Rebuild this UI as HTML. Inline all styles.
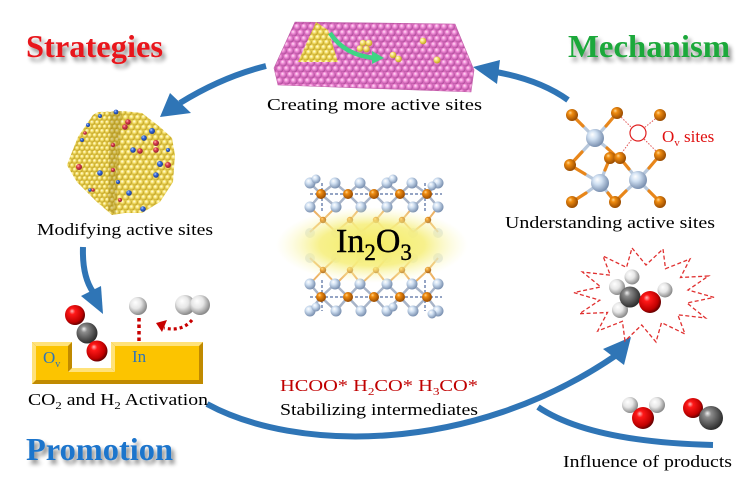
<!DOCTYPE html>
<html><head><meta charset="utf-8">
<style>
html,body{margin:0;padding:0;background:#fff;}
svg{display:block;}
text{font-family:"Liberation Serif","DejaVu Serif",serif;}
</style></head><body>
<svg width="750" height="495" viewBox="0 0 750 495" xmlns="http://www.w3.org/2000/svg">
<defs>
<radialGradient id="gRed" cx="0.4" cy="0.4" r="0.6" fx="0.35" fy="0.3"><stop offset="0" stop-color="#ffb8b8"/><stop offset="0.25" stop-color="#ff1818"/><stop offset="0.8" stop-color="#c00000"/><stop offset="1" stop-color="#6a0000"/></radialGradient>
<radialGradient id="gGray" cx="0.4" cy="0.4" r="0.6" fx="0.35" fy="0.3"><stop offset="0" stop-color="#f0f0f0"/><stop offset="0.25" stop-color="#8c8c8c"/><stop offset="1" stop-color="#2e2e2e"/></radialGradient>
<radialGradient id="gWhite" cx="0.4" cy="0.4" r="0.6" fx="0.35" fy="0.3"><stop offset="0" stop-color="#ffffff"/><stop offset="0.5" stop-color="#e6e6e6"/><stop offset="1" stop-color="#8a8a8a"/></radialGradient>
<radialGradient id="gOrange" cx="0.4" cy="0.4" r="0.6" fx="0.35" fy="0.3"><stop offset="0" stop-color="#ffd890"/><stop offset="0.3" stop-color="#f08c10"/><stop offset="1" stop-color="#9a4c00"/></radialGradient>
<radialGradient id="gLB" cx="0.4" cy="0.4" r="0.6" fx="0.35" fy="0.3"><stop offset="0" stop-color="#ffffff"/><stop offset="0.4" stop-color="#d0e0f2"/><stop offset="1" stop-color="#7a90b0"/></radialGradient>
<radialGradient id="gYel" cx="0.4" cy="0.4" r="0.6" fx="0.35" fy="0.3"><stop offset="0" stop-color="#fffef0"/><stop offset="0.45" stop-color="#f8e470"/><stop offset="1" stop-color="#c0a020"/></radialGradient>
<radialGradient id="gPink" cx="0.4" cy="0.4" r="0.6" fx="0.35" fy="0.3"><stop offset="0" stop-color="#ffe4f6"/><stop offset="0.45" stop-color="#f08ad6"/><stop offset="1" stop-color="#b04c9c"/></radialGradient>
<radialGradient id="gBD" cx="0.4" cy="0.4" r="0.6" fx="0.35" fy="0.3"><stop offset="0" stop-color="#c8dcff"/><stop offset="0.4" stop-color="#3a6ee0"/><stop offset="1" stop-color="#1a3a90"/></radialGradient>
<radialGradient id="gRD" cx="0.4" cy="0.4" r="0.6" fx="0.35" fy="0.3"><stop offset="0" stop-color="#ffc0c0"/><stop offset="0.4" stop-color="#e04050"/><stop offset="1" stop-color="#902030"/></radialGradient>
<radialGradient id="gGlow" cx="0.5" cy="0.5" r="0.5"><stop offset="0" stop-color="#f4ec60" stop-opacity="1"/><stop offset="0.55" stop-color="#f6ef80" stop-opacity="0.9"/><stop offset="1" stop-color="#fbf8c0" stop-opacity="0"/></radialGradient>
<pattern id="pPink" width="7" height="12" patternUnits="userSpaceOnUse"><rect width="7" height="12" fill="#d86cbc"/><circle cx="3.5" cy="3" r="3.4" fill="url(#gPink)"/><circle cx="0" cy="9" r="3.4" fill="url(#gPink)"/><circle cx="7" cy="9" r="3.4" fill="url(#gPink)"/></pattern>
<pattern id="pYel" width="5" height="8.6" patternUnits="userSpaceOnUse"><rect width="5" height="8.6" fill="#d8bc40"/><circle cx="2.5" cy="2.15" r="2.5" fill="url(#gYel)"/><circle cx="0" cy="6.45" r="2.5" fill="url(#gYel)"/><circle cx="5" cy="6.45" r="2.5" fill="url(#gYel)"/></pattern>
<pattern id="pYel2" width="6" height="10" patternUnits="userSpaceOnUse"><rect width="6" height="10" fill="#e0c850"/><circle cx="3" cy="2.5" r="2.9" fill="url(#gYel)"/><circle cx="0" cy="7.5" r="2.9" fill="url(#gYel)"/><circle cx="6" cy="7.5" r="2.9" fill="url(#gYel)"/></pattern>
<filter id="sh" x="-10%" y="-30%" width="130%" height="180%"><feGaussianBlur in="SourceAlpha" stdDeviation="2"/><feOffset dx="3" dy="4"/><feComponentTransfer><feFuncA type="linear" slope="0.45"/></feComponentTransfer><feMerge><feMergeNode/><feMergeNode in="SourceGraphic"/></feMerge></filter>
</defs>

<!-- Titles -->
<g filter="url(#sh)" font-weight="bold" font-size="32">
<text x="26" y="57" fill="#e8141b" textLength="137" lengthAdjust="spacingAndGlyphs">Strategies</text>
<text x="568" y="57" fill="#1ca83a" textLength="162" lengthAdjust="spacingAndGlyphs">Mechanism</text>
<text x="26" y="460" fill="#1e74cc" textLength="147" lengthAdjust="spacingAndGlyphs">Promotion</text>
</g>

<!-- Blue arrows -->
<g fill="none" stroke="#2f75b6" stroke-width="6">
<path d="M266,66 Q222,77 180,103"/>
<path d="M568,100 Q540,80 496,72"/>
<path d="M83,247 Q82,276 93,292"/>
<path d="M207,404 C295,452 470,455 615,356"/>
<path d="M538,407 Q590,442 713,445"/>
</g>
<g fill="#2f75b6">
<polygon points="160,117 170,93 191,113"/>
<polygon points="473,67 500,60 497,84"/>
<polygon points="103,314 81,296 101,286"/>
<polygon points="631,337 603,349 624,365"/>
</g>

<!-- Pink slab -->
<polygon points="295,22 455,24 474,70 471,92 278,85 274,68" fill="url(#pPink)" stroke="#c060a8" stroke-width="0.6"/>
<polygon points="316,22 328,30 338,62 298,62" fill="url(#pYel2)"/>
<path d="M330,33 Q345,56 376,58" fill="none" stroke="#3ed484" stroke-width="4.5"/>
<polygon points="384,58 372,51 372,64" fill="#3ed484"/>
<g>
<circle cx="363" cy="43" r="3.3" fill="url(#gYel)"/><circle cx="369" cy="43" r="3.3" fill="url(#gYel)"/>
<circle cx="360" cy="48.5" r="3.3" fill="url(#gYel)"/><circle cx="366.5" cy="49" r="3.3" fill="url(#gYel)"/>
<circle cx="393" cy="55" r="3.3" fill="url(#gYel)"/><circle cx="398.5" cy="59" r="3.3" fill="url(#gYel)"/>
<circle cx="423" cy="41" r="3.3" fill="url(#gYel)"/><circle cx="437" cy="60" r="3.5" fill="url(#gYel)"/>
</g>
<text x="267" y="110" font-size="17" fill="#000" textLength="215" lengthAdjust="spacingAndGlyphs">Creating more active sites</text>

<!-- Nanoparticle -->
<polygon points="93,115 98,112 123,111 142,113 160,127 172,138 175,155 173,182 160,202 142,213 125,213 112,215 97,202 77,182 67,165 78,137" fill="url(#pYel2)"/>
<polygon points="93,115 98,112 120,112 113,214 97,202 77,182 67,165 78,137" fill="url(#pYel)"/>
<polygon points="110,112 122,111 116,214 108,211" fill="#8a7010" opacity="0.3"/>
<g>
<circle cx="116" cy="112" r="2.4" fill="url(#gBD)"/><circle cx="100" cy="116" r="2" fill="url(#gBD)"/><circle cx="88" cy="125" r="2" fill="url(#gBD)"/>
<circle cx="82" cy="140" r="2" fill="url(#gBD)"/><circle cx="152" cy="131" r="3" fill="url(#gBD)"/><circle cx="144" cy="138" r="2.8" fill="url(#gBD)"/>
<circle cx="133" cy="150" r="2.8" fill="url(#gBD)"/><circle cx="160" cy="164" r="3" fill="url(#gBD)"/><circle cx="156" cy="175" r="2.8" fill="url(#gBD)"/>
<circle cx="100" cy="173" r="2.8" fill="url(#gBD)"/><circle cx="129" cy="193" r="2.8" fill="url(#gBD)"/><circle cx="143" cy="209" r="2.8" fill="url(#gBD)"/>
<circle cx="118" cy="182" r="2" fill="url(#gBD)"/><circle cx="90" cy="190" r="1.8" fill="url(#gBD)"/><circle cx="168" cy="150" r="2" fill="url(#gBD)"/>
<circle cx="128" cy="122" r="2.8" fill="url(#gRD)"/><circle cx="125" cy="127" r="2.8" fill="url(#gRD)"/><circle cx="156" cy="143" r="3" fill="url(#gRD)"/>
<circle cx="140" cy="151" r="2.8" fill="url(#gRD)"/><circle cx="156" cy="150" r="2.8" fill="url(#gRD)"/><circle cx="168" cy="165" r="3" fill="url(#gRD)"/>
<circle cx="79" cy="167" r="3" fill="url(#gRD)"/><circle cx="113" cy="145" r="2.2" fill="url(#gRD)"/><circle cx="113" cy="170" r="2" fill="url(#gRD)"/>
<circle cx="93" cy="190" r="1.8" fill="url(#gRD)"/><circle cx="120" cy="200" r="2" fill="url(#gRD)"/><circle cx="85" cy="133" r="1.8" fill="url(#gRD)"/>
</g>
<text x="37" y="235" font-size="17" fill="#000" textLength="176" lengthAdjust="spacingAndGlyphs">Modifying active sites</text>

<!-- Right structure -->
<g stroke-width="3.2" stroke-linecap="round">
<g stroke="#b8c8dc">
<line x1="595" y1="138" x2="583" y2="126"/><line x1="595" y1="138" x2="606" y2="126"/><line x1="595" y1="138" x2="582" y2="152"/><line x1="595" y1="138" x2="607" y2="148"/>
<line x1="600" y1="183" x2="585" y2="174"/><line x1="600" y1="183" x2="586" y2="193"/><line x1="600" y1="183" x2="608" y2="193"/><line x1="600" y1="183" x2="605" y2="170"/>
<line x1="638" y1="180" x2="629" y2="169"/><line x1="638" y1="180" x2="649" y2="168"/><line x1="638" y1="180" x2="626" y2="191"/><line x1="638" y1="180" x2="649" y2="191"/>
</g>
<g stroke="#e8861a">
<line x1="583" y1="126" x2="572" y2="115"/><line x1="606" y1="126" x2="617" y2="113"/><line x1="582" y1="152" x2="570" y2="165"/><line x1="607" y1="148" x2="618" y2="158"/>
<line x1="585" y1="174" x2="570" y2="165"/><line x1="586" y1="193" x2="572" y2="202"/><line x1="608" y1="193" x2="615" y2="202"/><line x1="605" y1="170" x2="610" y2="158"/>
<line x1="629" y1="169" x2="620" y2="158"/><line x1="649" y1="168" x2="660" y2="155"/><line x1="626" y1="191" x2="615" y2="202"/><line x1="649" y1="191" x2="660" y2="202"/>
</g>
</g>
<g stroke="#e05050" stroke-width="1" stroke-dasharray="1.5,1.5" fill="none">
<line x1="617" y1="113" x2="632" y2="128"/><line x1="660" y1="115" x2="644" y2="128"/><line x1="618" y1="158" x2="632" y2="139"/><line x1="660" y1="155" x2="644" y2="139"/>
</g>
<circle cx="638" cy="133" r="8" fill="#fff" stroke="#e02020" stroke-width="1.2"/>
<g>
<circle cx="572" cy="115" r="6" fill="url(#gOrange)"/><circle cx="617" cy="113" r="6" fill="url(#gOrange)"/><circle cx="660" cy="115" r="6" fill="url(#gOrange)"/>
<circle cx="570" cy="165" r="6" fill="url(#gOrange)"/><circle cx="660" cy="155" r="6" fill="url(#gOrange)"/>
<circle cx="595" cy="138" r="9" fill="url(#gLB)"/>
<circle cx="610" cy="158" r="6" fill="url(#gOrange)"/><circle cx="620" cy="158" r="6" fill="url(#gOrange)"/>
<circle cx="600" cy="183" r="9" fill="url(#gLB)"/><circle cx="638" cy="180" r="9" fill="url(#gLB)"/>
<circle cx="572" cy="202" r="6" fill="url(#gOrange)"/><circle cx="615" cy="202" r="6" fill="url(#gOrange)"/><circle cx="660" cy="202" r="6" fill="url(#gOrange)"/>
</g>
<text x="662" y="142" font-size="17" fill="#e01010">O<tspan font-size="11" dy="4">v</tspan><tspan dy="-4"> sites</tspan></text>
<text x="505" y="228" font-size="17" fill="#000" textLength="210" lengthAdjust="spacingAndGlyphs">Understanding active sites</text>

<!-- In2O3 lattice -->
<g>
<g stroke="#a8b4c8" stroke-width="2.5" fill="none">
<path d="M310,183 L321,194 L335,183 M321,194 L310,207 M321,194 L336,207 M335,183 L348,194 L360,183 M348,194 L336,207 M348,194 L361,207 M360,183 L374,194 L387,183 M374,194 L361,207 M374,194 L387,207 M387,183 L400,194 L412,183 M400,194 L387,207 M400,194 L413,207 M412,183 L427,194 L438,183 M427,194 L413,207 M427,194 L438,207"/>
<path d="M310,284 L321,297 L335,284 M321,297 L310,311 M321,297 L336,311 M335,284 L348,297 L360,284 M348,297 L336,311 M348,297 L361,311 M360,284 L374,297 L387,284 M374,297 L361,311 M374,297 L387,311 M387,284 L400,297 L412,284 M400,297 L387,311 M400,297 L413,311 M412,284 L427,297 L438,284 M427,297 L413,311 M427,297 L438,311"/>
</g>
<g stroke="#e8a040" stroke-width="2" opacity="0.8" fill="none">
<path d="M310,207 L323,220 L336,207 M323,220 L310,232 M323,220 L336,232 M361,207 L350,220 L336,232 M350,220 L361,232 M387,207 L376,220 L361,232 M376,220 L387,232 M413,207 L402,220 L387,232 M402,220 L413,232 M438,207 L428,220 L413,232 M428,220 L438,232"/>
<path d="M310,258 L323,270 L336,258 M323,270 L310,284 M323,270 L336,284 M361,258 L350,270 L336,284 M350,270 L361,284 M387,258 L376,270 L361,284 M376,270 L387,284 M413,258 L402,270 L387,284 M402,270 L413,284 M438,258 L428,270 L413,284 M428,270 L438,284"/>
</g>
<g stroke="#2a4a8a" stroke-width="1" stroke-dasharray="3,2" fill="none">
<line x1="310" y1="194" x2="442" y2="194"/><line x1="310" y1="297" x2="442" y2="297"/>
<line x1="322" y1="183" x2="322" y2="212"/><line x1="425" y1="183" x2="425" y2="212"/>
<line x1="322" y1="280" x2="322" y2="311"/><line x1="425" y1="280" x2="425" y2="311"/>
</g>
<g fill="url(#gLB)">
<circle cx="310" cy="183" r="5.5"/><circle cx="335" cy="183" r="5.5"/><circle cx="360" cy="183" r="5.5"/><circle cx="387" cy="183" r="5.5"/><circle cx="412" cy="183" r="5.5"/><circle cx="438" cy="183" r="5.5"/>
<circle cx="316" cy="179" r="4.5"/><circle cx="393" cy="179" r="4.5"/><circle cx="432" cy="186" r="4.5"/>
<circle cx="310" cy="207" r="5.5"/><circle cx="336" cy="207" r="5.5"/><circle cx="361" cy="207" r="5.5"/><circle cx="387" cy="207" r="5.5"/><circle cx="413" cy="207" r="5.5"/><circle cx="438" cy="207" r="5.5"/>
<circle cx="310" cy="284" r="5.5"/><circle cx="335" cy="284" r="5.5"/><circle cx="360" cy="284" r="5.5"/><circle cx="387" cy="284" r="5.5"/><circle cx="412" cy="284" r="5.5"/><circle cx="438" cy="284" r="5.5"/>
<circle cx="310" cy="311" r="5.5"/><circle cx="336" cy="311" r="5.5"/><circle cx="361" cy="311" r="5.5"/><circle cx="387" cy="311" r="5.5"/><circle cx="413" cy="311" r="5.5"/><circle cx="438" cy="311" r="5.5"/>
<circle cx="316" cy="307" r="4.5"/><circle cx="393" cy="307" r="4.5"/><circle cx="432" cy="314" r="4.5"/>
</g>
<g fill="url(#gOrange)">
<circle cx="321" cy="194" r="5"/><circle cx="348" cy="194" r="5"/><circle cx="374" cy="194" r="5"/><circle cx="400" cy="194" r="5"/><circle cx="427" cy="194" r="5"/>
<circle cx="321" cy="297" r="5"/><circle cx="348" cy="297" r="5"/><circle cx="374" cy="297" r="5"/><circle cx="400" cy="297" r="5"/><circle cx="427" cy="297" r="5"/>
<circle cx="323" cy="220" r="3.2"/><circle cx="350" cy="220" r="3.2"/><circle cx="376" cy="220" r="3.2"/><circle cx="402" cy="220" r="3.2"/><circle cx="428" cy="220" r="3.2"/>
<circle cx="323" cy="270" r="3.2"/><circle cx="350" cy="270" r="3.2"/><circle cx="376" cy="270" r="3.2"/><circle cx="402" cy="270" r="3.2"/><circle cx="428" cy="270" r="3.2"/>
</g>
<g fill="#c8d4e4" opacity="0.6">
<circle cx="310" cy="233" r="5"/><circle cx="336" cy="233" r="5"/><circle cx="361" cy="233" r="5"/><circle cx="387" cy="233" r="5"/><circle cx="413" cy="233" r="5"/><circle cx="438" cy="233" r="5"/>
<circle cx="310" cy="258" r="5"/><circle cx="336" cy="258" r="5"/><circle cx="361" cy="258" r="5"/><circle cx="387" cy="258" r="5"/><circle cx="413" cy="258" r="5"/><circle cx="438" cy="258" r="5"/>
</g>
</g>
<ellipse cx="372" cy="245" rx="96" ry="38" fill="url(#gGlow)"/>
<text x="336" y="252" font-size="34" fill="#000" stroke="#000" stroke-width="0.4">In<tspan font-size="23" dy="8">2</tspan><tspan dy="-8">O</tspan><tspan font-size="23" dy="8">3</tspan></text>

<!-- Yellow block -->
<path d="M32,342 H72 V368 H111 V342 H203 V384 H32 Z" fill="#c08a00"/>
<g fill="#ffe27a">
<polygon points="32,342 72,342 68,346 36,346"/>
<polygon points="32,342 36,346 36,380 32,384"/>
<polygon points="72,368 111,368 115,372 68,372"/>
<polygon points="111,342 115,346 115,372 111,368"/>
<polygon points="111,342 203,342 199,346 115,346"/>
</g>
<path d="M36,346 H68 V372 H115 V346 H199 V380 H36 Z" fill="#fcc400"/>
<text x="43" y="363" font-size="17" fill="#2f75b6">O<tspan font-size="10" dy="4">v</tspan></text>
<text x="132" y="362" font-size="17" fill="#2f75b6">In</text>

<!-- CO2 -->
<circle cx="75" cy="315" r="10" fill="url(#gRed)"/>
<circle cx="87" cy="333" r="10.5" fill="url(#gGray)"/>
<circle cx="97" cy="351" r="10.5" fill="url(#gRed)"/>
<!-- H -->
<circle cx="138" cy="306" r="9" fill="url(#gWhite)"/>
<circle cx="185" cy="305" r="10" fill="url(#gWhite)"/>
<circle cx="200" cy="305" r="10" fill="url(#gWhite)"/>
<line x1="139" y1="318" x2="139" y2="342" stroke="#c80000" stroke-width="3.5" stroke-dasharray="3.5,3"/>
<path d="M192,320 Q182,332 164,328" fill="none" stroke="#c80000" stroke-width="3.2" stroke-dasharray="3,3"/>
<polygon points="156,323 167,320 162,332" fill="#c80000"/>
<text x="28" y="405" font-size="17" fill="#000" textLength="180" lengthAdjust="spacingAndGlyphs">CO<tspan font-size="11" dy="4">2</tspan><tspan dy="-4"> and H</tspan><tspan font-size="11" dy="4">2</tspan><tspan dy="-4"> Activation</tspan></text>

<!-- Intermediates -->
<text x="280" y="391" font-size="17" fill="#c00000" textLength="198" lengthAdjust="spacingAndGlyphs">HCOO*  H<tspan font-size="11" dy="4">2</tspan><tspan dy="-4">CO*  H</tspan><tspan font-size="11" dy="4">3</tspan><tspan dy="-4">CO*</tspan></text>
<text x="280" y="415" font-size="17" fill="#000" textLength="198" lengthAdjust="spacingAndGlyphs">Stabilizing intermediates</text>

<!-- Starburst -->
<polygon points="632,248 646,265 663,249 665.5,268.7 690,259 680.5,277.5 708.5,276 688,290 714,297.4 687,303 705.5,318 677.8,314.8 685,334 661.5,322.6 656,342 641.7,325 625,341 622.4,321.3 597.7,331 607.5,312.5 579.5,313.7 599.7,300.2 574,292.6 600.7,286.9 582.5,272 610.3,275.2 603,256 626.5,267.4" fill="none" stroke="#e03030" stroke-width="1.3" stroke-dasharray="4,2.5"/>
<!-- Methanol -->
<circle cx="632" cy="277" r="7.5" fill="url(#gWhite)"/>
<circle cx="617" cy="287" r="8" fill="url(#gWhite)"/>
<circle cx="620" cy="310" r="8" fill="url(#gWhite)"/>
<circle cx="630" cy="297" r="10.5" fill="url(#gGray)"/>
<circle cx="665" cy="290" r="7.5" fill="url(#gWhite)"/>
<circle cx="650" cy="302" r="11" fill="url(#gRed)"/>

<!-- H2O and CO -->
<circle cx="630" cy="405" r="8" fill="url(#gWhite)"/>
<circle cx="657" cy="405" r="8" fill="url(#gWhite)"/>
<circle cx="643" cy="418" r="11" fill="url(#gRed)"/>
<circle cx="693" cy="408" r="10" fill="url(#gRed)"/>
<circle cx="711" cy="418" r="12" fill="url(#gGray)"/>
<text x="563" y="467" font-size="17" fill="#000" textLength="169" lengthAdjust="spacingAndGlyphs">Influence of products</text>
</svg>
</body></html>
